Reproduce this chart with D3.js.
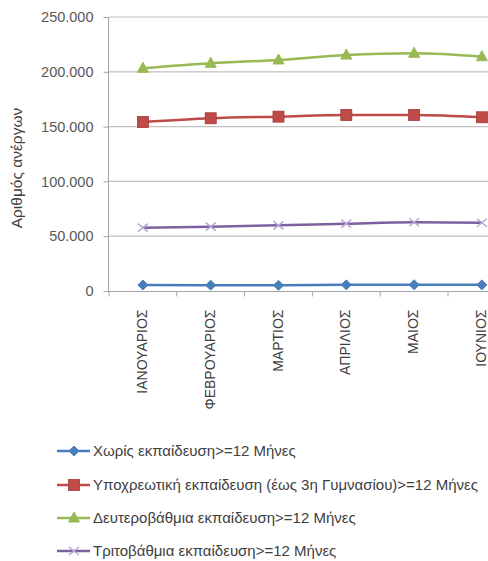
<!DOCTYPE html>
<html><head><meta charset="utf-8">
<script src="https://cdn.jsdelivr.net/npm/d3@7"></script>
<style>body{margin:0;background:#fff;}svg{display:block;font-family:"Liberation Sans",Arial,sans-serif;}</style>
</head><body>
<svg id="c" width="488" height="561"></svg>
<script>
const months = ["ΙΑΝΟΥΑΡΙΟΣ","ΦΕΒΡΟΥΑΡΙΟΣ","ΜΑΡΤΙΟΣ","ΑΠΡΙΛΙΟΣ","ΜΑΙΟΣ","ΙΟΥΝΙΟΣ"];
const seriesNames = ["Χωρίς εκπαίδευση>=12 Μήνες","Υποχρεωτική εκπαίδευση (έως 3η Γυμνασίου)>=12 Μήνες","Δευτεροβάθμια εκπαίδευση>=12 Μήνες","Τριτοβάθμια εκπαίδευση>=12 Μήνες"];
const noEdu = [5500,5300,5200,5600,5700,5600];
const compulsory = [154200,157600,159100,160600,160600,158500];
const secondary = [203200,207800,210800,215300,216900,213800];
const tertiary = [57800,58700,59900,61400,62700,62300];
const yTicks = [0,50000,100000,150000,200000,250000];
const yTitle = "Αριθμός ανέργων";

const colors = ["#4a7ebb","#be4b48","#98b954","#7d60a0"];
const markers = ["diamond","square","triangle","x"];
const data = [noEdu, compulsory, secondary, tertiary];

const svg = d3.select("#c");
const x = d3.scaleBand().domain(months).range([109, 109+6*67.8]);
const y = d3.scaleLinear().domain([0,250000]).range([291,17]);
const fmt = v => v===0 ? "0" : d3.format(",")(v).replace(/,/g,".");

// gridlines
svg.append("g").selectAll("line").data(yTicks.filter(d=>d>0)).join("line")
  .attr("x1",109).attr("x2",488).attr("y1",d=>y(d)).attr("y2",d=>y(d))
  .attr("stroke","#bfbfbf").attr("stroke-width",1.2);

// y axis
const ya = svg.append("g").attr("transform","translate(108.5,0)").call(d3.axisLeft(y).tickValues(yTicks).tickFormat(fmt).tickSize(5).tickPadding(10));
ya.select(".domain").attr("stroke","#a6a6a6").attr("d","M0,"+y(250000)+"V"+y(0));
ya.selectAll(".tick line").attr("stroke","#a6a6a6");
ya.selectAll("text").attr("fill","#595959").style("font-size","14.5px").attr("font-family","Liberation Sans, Arial");

// x axis
const xa = svg.append("g").attr("transform","translate(0,291.5)");
xa.append("line").attr("x1",104).attr("x2",488).attr("stroke","#a6a6a6");
xa.selectAll("line.t").data(months.map((m,i)=>i)).join("line").attr("class","t")
  .attr("x1",d=>x(months[d])).attr("x2",d=>x(months[d])).attr("y1",0).attr("y2",5).attr("stroke","#a6a6a6");
xa.selectAll("text").data(months).join("text")
  .attr("transform",d=>`translate(${x(d)+x.bandwidth()/2+4},18) rotate(-90)`)
  .attr("text-anchor","end").attr("fill","#404040").style("font-size","14px").text(d=>d);

// y title
svg.append("text").attr("transform","translate(22,168) rotate(-90)").attr("text-anchor","middle")
  .attr("fill","#404040").style("font-size","15.5px").text(yTitle);

function drawMarker(g, type, color, cx, cy){
  if(type==="diamond"){
    g.append("path").attr("d",`M${cx},${cy-5}L${cx+5},${cy}L${cx},${cy+5}L${cx-5},${cy}Z`).attr("fill",color).attr("stroke",color);
  } else if(type==="square"){
    g.append("rect").attr("x",cx-5.5).attr("y",cy-5.5).attr("width",11).attr("height",11).attr("fill",color).attr("stroke","#a33a37").attr("stroke-width",0.8);
  } else if(type==="triangle"){
    g.append("path").attr("d",`M${cx},${cy-6}L${cx+5.5},${cy+4}L${cx-5.5},${cy+4}Z`).attr("fill",color).attr("stroke",color);
  } else {
    g.append("path").attr("d",`M${cx-5},${cy-4}L${cx+5},${cy+4}M${cx-5},${cy+4}L${cx+5},${cy-4}`).attr("stroke","#b7a7d3").attr("stroke-width",1.5).attr("fill","none");
  }
}

const line = d3.line().x((d,i)=>x(months[i])+x.bandwidth()/2).y(d=>y(d)).curve(d3.curveMonotoneX);
data.forEach((s,k)=>{
  const g = svg.append("g");
  g.append("path").datum(s).attr("d",line).attr("fill","none").attr("stroke",colors[k]).attr("stroke-width",2.5);
  s.forEach((v,i)=>drawMarker(g, markers[k], colors[k], x(months[i])+x.bandwidth()/2, y(v)));
});

// legend
const ly = [451,485,518,551];
seriesNames.forEach((n,k)=>{
  const g = svg.append("g");
  g.append("line").attr("x1",57).attr("x2",90).attr("y1",ly[k]).attr("y2",ly[k]).attr("stroke",colors[k]).attr("stroke-width",2.5);
  drawMarker(g, markers[k], colors[k], 74, ly[k]);
  g.append("text").attr("x",93).attr("y",ly[k]+5).attr("fill","#404040").style("font-size","15px").text(n);
});
</script>
</body></html>
